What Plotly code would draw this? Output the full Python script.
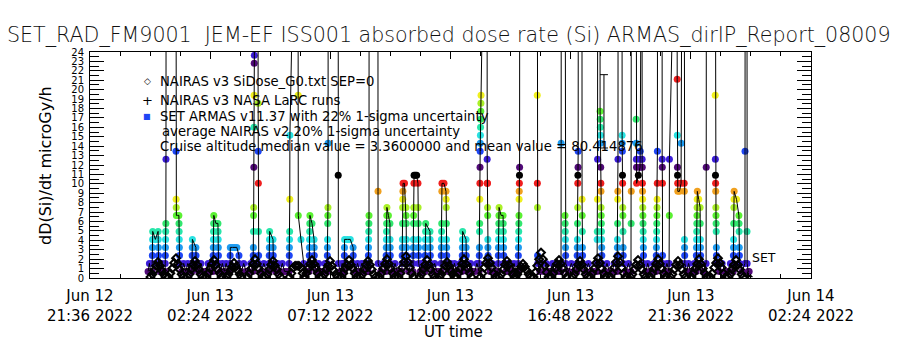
import pandas as pd
import plotly.graph_objects as go

T0 = pd.Timestamp("2022-06-12 00:00")

# ---------------- data ----------------
# SET ARMAS dose-rate samples (microGy/h), grouped in fast bursts; hours after 2022-06-12 00:00 UT
burst_hour = [23.92, 24.08, 24.32, 24.60, 25.03, 25.15, 25.67, 25.83, 26.51, 26.71,
              27.19, 27.55, 28.11, 28.31, 28.75, 28.91, 29.55, 29.91, 30.35, 30.55,
              31.07, 31.51, 31.75, 32.11, 32.71, 33.10, 33.42, 33.58, 34.06, 34.22,
              34.50, 34.70, 34.98, 35.18, 35.62, 35.82, 36.46, 36.62, 37.14, 37.46,
              37.90, 38.10, 38.70, 39.46, 40.41, 40.57, 41.05, 41.25, 41.85, 41.97,
              42.65, 42.85, 43.21, 43.41, 43.57, 43.65, 44.21, 44.45, 44.73, 45.05,
              45.21, 45.33, 45.81, 45.97, 46.21, 46.57, 47.29, 47.52, 47.76, 47.84,
              47.93]
burst_vals = [
    [0.7],
    [0.7, 1.55, 2.4, 3.25, 4.1, 4.95],
    [4.95, 4.1, 3.25, 2.4, 1.55],
    [0.7, 1.55, 2.4, 3.25, 4.1, 4.95, 5.8, 12.6, 40],
    [50, 13.45, 8.35, 7.5, 6.65],
    [6.65, 5.8, 4.95, 4.1, 3.25, 2.4, 1.55],
    [0.7, 1.55, 2.4, 3.25, 4.1],
    [3.25, 2.4, 1.55],
    [0.7, 1.55, 2.4, 3.25, 4.1, 4.95, 5.8, 6.65],
    [5.8, 4.95, 4.1, 3.25, 2.4, 1.55],
    [0.7, 1.55, 2.4, 3.25],
    [2.4, 1.55],
    [0.7, 1.55, 2.4, 3.25, 4.95, 6.65, 7.5, 11.75, 16.0, 19.4, 22.8, 23.65, 60],
    [70, 18.55, 13.45, 10.05, 4.95, 2.4, 1.55],
    [0.7, 1.55, 2.4, 3.25, 4.1, 4.95],
    [4.1, 3.25, 2.4, 1.55],
    [0.7, 1.55, 2.4, 3.25, 4.1, 4.95, 8.35, 15.15, 50],
    [60, 19.4, 6.65],
    [0.7, 1.55, 2.4, 3.25, 4.1, 4.95, 5.8, 6.65],
    [4.1, 3.25, 2.4, 1.55],
    [0.7, 1.55, 2.4, 3.25, 4.1, 5.8, 6.65, 7.5, 14.3, 45],
    [55, 10.9, 1.55],
    [0.7, 1.55, 2.4, 3.25, 4.1],
    [3.25, 2.4, 1.55],
    [0.7, 1.55, 2.4, 3.25, 4.1, 4.95, 5.8, 6.65, 40],
    [50, 9.2, 1.55],
    [0.7, 1.55, 2.4, 3.25, 4.1, 4.95, 5.8, 6.65, 7.5],
    [5.8, 4.1, 3.25, 2.4, 1.55],
    [0.7, 1.55, 2.4, 3.25, 4.1, 5.8, 7.5, 8.35, 9.2, 10.05],
    [7.5, 6.65, 5.8, 4.1, 3.25, 2.4, 1.55],
    [0.7, 1.55, 2.4, 3.25, 4.1, 5.8, 6.65, 7.5, 10.05, 10.9],
    [10.05, 7.5, 5.8, 4.1, 3.25, 2.4, 1.55],
    [0.7, 1.55, 2.4, 3.25, 4.1, 4.95, 5.8],
    [4.95, 4.1, 3.25, 2.4, 1.55],
    [0.7, 1.55, 2.4, 3.25, 4.1, 4.95, 5.8, 9.2, 10.05],
    [9.2, 8.35, 7.5, 5.8, 4.1, 3.25, 2.4, 1.55],
    [0.7, 1.55, 2.4, 3.25, 4.1, 4.95],
    [4.1, 3.25, 2.4, 1.55],
    [0.7, 1.55, 2.4, 3.25, 4.95, 5.8, 8.35, 10.05, 11.75, 13.45, 14.3, 15.15, 16.0, 16.85, 17.7, 18.55, 19.4, 50],
    [60, 12.6, 10.05, 10.05, 7.5, 6.65, 4.1, 3.25, 2.4, 1.55],
    [0.7, 1.55, 2.4, 3.25, 4.1, 4.95, 5.8, 6.65, 7.5],
    [6.65, 5.8, 4.95, 4.1, 3.25, 2.4, 1.55],
    [0.7, 1.55, 2.4, 3.25, 4.1, 4.95, 5.8, 6.65, 8.35, 9.2, 10.05, 10.9, 11.75, 45],
    [55, 19.4, 10.05, 7.5, 2.4, 1.55],
    [0.7, 1.55, 14.3, 40],
    [50, 6.65, 5.8, 4.95, 4.1, 3.25, 2.4, 1.55],
    [0.7, 1.55, 2.4, 3.25, 4.1, 5.8, 7.5, 10.05, 10.9, 11.75, 13.45, 40],
    [50, 8.35, 6.65, 4.95, 3.25, 2.4, 1.55],
    [0.7, 1.55, 4.1, 4.95, 8.35, 12.6, 45],
    [60, 17.7, 16.85, 16.0, 15.15, 14.3, 11.75, 10.05, 9.2, 7.5, 6.65, 5.8, 4.95, 4.1, 3.25, 2.4, 1.55],
    [0.7, 1.55, 2.4, 3.25, 4.1, 5.8, 8.35, 9.2, 12.6, 40],
    [50, 15.15, 14.3, 13.45, 10.9, 10.05, 7.5, 6.65, 4.95, 3.25, 2.4, 1.55],
    [0.7, 5.8, 9.2, 40],
    [50, 16.85, 14.3, 12.6, 11.75, 10.05],
    [11.75, 12.6, 13.45, 40],
    [50, 12.6, 11.75, 10.05, 9.2, 8.35, 7.5, 6.65, 5.8, 4.95, 4.1, 3.25, 2.4, 1.55],
    [0.7, 1.55, 2.4, 3.25, 4.1, 4.95, 5.8, 6.65, 7.5, 8.35, 10.05, 13.45, 45],
    [55, 12.6, 11.75, 10.05, 2.4, 1.55],
    [0.7, 1.55, 6.65, 12.6, 40],
    [50, 21.1, 15.15, 11.75, 10.9, 10.05, 9.2],
    [10.05, 14.3, 40],
    [45, 10.05, 9.2, 4.1, 3.25, 2.4, 1.55],
    [0.7, 1.55, 2.4, 3.25, 4.1, 4.95, 5.8, 6.65, 7.5, 8.35, 9.2],
    [7.5, 5.8, 4.1, 3.25, 2.4, 1.55],
    [1.55, 11.75, 40],
    [50, 19.4, 12.6, 10.9, 10.05, 9.2, 7.5, 6.65, 5.8, 4.95, 3.25, 2.4, 1.55],
    [0.7, 1.55, 2.4, 3.25, 4.1, 5.8, 7.5, 8.35, 9.2],
    [6.65, 5.8, 4.95, 3.25, 2.4, 1.55],
    [1.55, 13.45, 40],
    [50, 4.95, 1.55],
    [0.7],
]
# slower samples between consecutive bursts
gap_vals = [
    [1.55, 0.7], [4.1], [0.7, 1.55, 0.7], [], [6.65], [0.7, 1.55, 0.7, 1.55, 0.7], [],
    [0.7, 1.55, 0.7, 0.7, 1.55, 0.7], [5.8], [0.7, 1.55, 0.7, 1.55, 0.7], [3.25, 3.25, 3.25],
    [0.7, 1.55, 0.7, 0.7, 1.55], [], [0.7, 1.55, 0.7], [], [0.7, 1.55, 0.7, 1.55, 0.7, 0.7], [],
    [4.1, 1.55, 0.7], [5.8], [0.7, 1.55, 0.7, 0.7, 1.55], [], [0.7, 1.55], [4.1, 4.1],
    [0.7, 1.55, 0.7, 1.55, 0.7, 0.7], [], [0.7, 1.55], [6.65], [0.7, 1.55, 0.7, 0.7], [10.05],
    [0.7, 1.55], [10.9, 10.9], [0.7, 1.55, 0.7], [], [0.7, 1.55, 0.7, 0.7], [10.05],
    [0.7, 1.55, 0.7, 1.55, 0.7, 0.7, 1.55], [], [0.7, 1.55, 0.7, 0.7, 1.55], [], [0.7, 1.55, 0.7, 0.7], [6.65],
    [0.7, 1.55, 0.7, 0.7, 1.55, 0.7], [80, 120, 90], [0.7, 1.55, 0.7, 1.55, 0.7, 0.7, 1.55, 0.7, 1.55, 0.7], [],
    [0.7, 1.55, 0.7], [], [0.7, 1.55, 0.7, 0.7], [], [0.7, 1.55, 0.7, 0.7, 1.55], [], [0.7, 1.55], [],
    [10.9], [], [0.7, 1.55, 0.7, 0.7, 1.55], [], [0.7, 1.55], [], [9.2], [60], [0.7, 1.55, 0.7, 0.7, 1.55],
    [8.35], [0.7], [], [0.7, 1.55, 0.7, 0.7, 1.55], [8.35], [0.7], [], [0.7],
]

# NAIRAS v3 SiDose (open diamonds): one arch per half orbit, centre hour + samples
nairas_center_hour = [24.316, 25.035, 25.794, 26.553, 27.352, 28.191, 28.910, 29.869,
                      30.468, 31.187, 31.946, 32.705, 33.464, 34.223, 35.062, 35.860,
                      36.539, 37.498, 38.257, 38.896, 39.615, 40.334, 41.173, 41.892,
                      42.691, 43.490, 44.289, 45.088, 45.927, 46.685, 47.404]
nairas_vals = [
    [0.1, 0.4, 0.8, 1.3, 1.7, 1.3, 0.8, 0.4, 0.1],
    [0.1, 0.5, 1.0, 1.6, 2.1, 1.5, 0.9, 0.4, 0.1],
    [0.1, 0.4, 0.9, 1.4, 1.8, 1.4, 0.9, 0.4, 0.1],
    [0.1, 0.5, 1.0, 1.5, 1.9, 1.4, 0.9, 0.5, 0.1],
    [0.1, 0.4, 0.8, 1.2, 1.6, 1.2, 0.8, 0.4, 0.1],
    [0.1, 0.5, 1.0, 1.5, 2.0, 1.5, 1.0, 0.5, 0.1],
    [0.1, 0.4, 0.9, 1.4, 1.8, 1.3, 0.9, 0.4, 0.1],
    [0.1, 0.5, 1.1, 1.3, 1.3, 1.3, 1.1, 0.5, 0.1],
    [0.1, 0.5, 1.0, 1.5, 1.9, 1.5, 1.0, 0.5, 0.1],
    [0.1, 0.4, 0.9, 1.3, 1.8, 1.3, 0.8, 0.4, 0.1],
    [0.1, 0.5, 1.0, 1.4, 1.9, 1.4, 1.0, 0.5, 0.1],
    [0.1, 0.4, 0.9, 1.4, 1.8, 1.4, 0.9, 0.4, 0.1],
    [0.1, 0.5, 1.0, 1.5, 2.0, 1.5, 1.0, 0.5, 0.1],
    [0.1, 0.5, 1.1, 1.7, 2.3, 1.7, 1.1, 0.5, 0.1],
    [0.1, 0.4, 0.9, 1.4, 1.9, 1.4, 0.9, 0.4, 0.1],
    [0.1, 0.4, 0.8, 1.3, 1.7, 1.3, 0.8, 0.4, 0.1],
    [0.1, 0.5, 1.0, 1.5, 2.0, 1.5, 1.0, 0.5, 0.1],
    [0.1, 0.5, 1.1, 1.6, 2.1, 1.6, 1.1, 0.5, 0.1],
    [0.1, 0.4, 0.9, 1.4, 1.8, 1.4, 0.9, 0.4, 0.1],
    [0.1, 0.4, 0.8, 1.2, 1.5, 1.2, 0.8, 0.4, 0.1],
    [0.1, 0.6, 1.3, 2.0, 2.7, 2.0, 1.3, 0.6, 0.1],
    [0.1, 0.5, 1.0, 1.5, 1.9, 1.5, 1.0, 0.5, 0.1],
    [0.1, 0.4, 0.9, 1.4, 1.8, 1.4, 0.9, 0.4, 0.1],
    [0.1, 0.5, 1.0, 1.6, 2.1, 1.6, 1.0, 0.5, 0.1],
    [0.1, 0.5, 1.1, 1.7, 2.3, 1.7, 1.1, 0.5, 0.1],
    [0.1, 0.4, 0.9, 1.4, 1.9, 1.4, 0.9, 0.4, 0.1],
    [0.1, 0.5, 1.0, 1.5, 2.0, 1.5, 1.0, 0.5, 0.1],
    [0.1, 0.4, 0.9, 1.4, 1.8, 1.4, 0.9, 0.4, 0.1],
    [0.1, 0.5, 1.0, 1.5, 2.0, 1.5, 1.0, 0.5, 0.1],
    [0.1, 0.5, 1.1, 1.6, 2.1, 1.6, 1.1, 0.5, 0.1],
    [0.1, 0.4, 0.9, 1.4, 1.9, 1.4, 0.9, 0.4, 0.1],
]

# NAIRAS v3 NASA LaRC runs (plus markers)
larc_hour = [47.86, 47.90]
larc_val = [0.25, 0.15]

# one ARMAS point shown with its 22% uncertainty bar
err_hour = [42.13]
err_val = [17.7]

# axis ticks
x_tick_hour = [21.6, 26.4, 31.2, 36.0, 40.8, 45.6, 50.4]
x_tick_text = ["Jun 12<br>21:36 2022", "Jun 13<br>02:24 2022", "Jun 13<br>07:12 2022",
               "Jun 13<br>12:00 2022", "Jun 13<br>16:48 2022", "Jun 13<br>21:36 2022",
               "Jun 14<br>02:24 2022"]
y_tick_vals = list(range(0, 25))
y_tick_text = [str(v) for v in y_tick_vals]

# ---------------- build ----------------
BURST_STEP_H = 0.005   # ARMAS fast cadence inside a burst
NAIRAS_STEP_H = 0.075  # NAIRAS sample spacing

def to_time(hours):
    return [T0 + pd.to_timedelta(h, unit="h") for h in hours]

a_h, a_v = [], []
for i, (h, vals) in enumerate(zip(burst_hour, burst_vals)):
    for j, val in enumerate(vals):
        a_h.append(h + j * BURST_STEP_H)
        a_v.append(val)
    if i < len(gap_vals) and i + 1 < len(burst_hour):
        g = gap_vals[i]
        end = h + (len(vals) - 1) * BURST_STEP_H
        nxt = burst_hour[i + 1]
        for k, val in enumerate(g):
            a_h.append(end + (nxt - end) * (k + 1) / (len(g) + 1))
            a_v.append(val)

palette = ["#510a78", "#3c1ed8", "#1e46f5", "#1e9bf0", "#28e1e1", "#28e6aa",
           "#32e66e", "#5af032", "#aaf028", "#f0f01e", "#f0a01e", "#f01e1e", "#000000"]
a_col = [palette[int(round((v - 0.7) / 0.85)) % 13] for v in a_v]

n_h, n_v = [], []
for c, vals in zip(nairas_center_hour, nairas_vals):
    half = (len(vals) - 1) / 2
    for j, val in enumerate(vals):
        n_h.append(c + (j - half) * NAIRAS_STEP_H)
        n_v.append(val)

fig = go.Figure()
fig.add_trace(go.Scatter(x=to_time(a_h), y=a_v, mode="markers",
                         marker=dict(symbol="circle", size=7, color=a_col, line=dict(width=0)),
                         showlegend=False, hoverinfo="skip"))
fig.add_trace(go.Scatter(x=to_time(a_h), y=a_v, mode="lines",
                         line=dict(color="black", width=1), showlegend=False, hoverinfo="skip"))
fig.add_trace(go.Scatter(x=to_time(n_h), y=n_v, mode="markers",
                         marker=dict(symbol="diamond-open", size=6, color="black", line=dict(width=2)),
                         showlegend=False, hoverinfo="skip"))
fig.add_trace(go.Scatter(x=to_time(larc_hour), y=larc_val, mode="markers",
                         marker=dict(symbol="cross-thin-open", size=6, color="black", line=dict(width=1.2, color="black")),
                         showlegend=False, hoverinfo="skip"))
fig.add_trace(go.Scatter(x=to_time(err_hour), y=err_val, mode="markers",
                         marker=dict(size=1, color="rgba(0,0,0,0)"),
                         error_y=dict(type="percent", value=22, color="black", thickness=1, width=4),
                         showlegend=False, hoverinfo="skip"))

FONT = "DejaVu Sans"
fig.update_layout(
    width=900, height=350,
    margin=dict(l=90, r=89, t=52, b=72),
    paper_bgcolor="white", plot_bgcolor="white",
    font=dict(family=FONT, color="black", size=13),
    showlegend=False,
)
fig.update_xaxes(
    range=[T0 + pd.to_timedelta(21.6, unit="h"), T0 + pd.to_timedelta(50.4, unit="h")],
    tickvals=to_time(x_tick_hour), ticktext=x_tick_text,
    ticks="inside", ticklen=7, tickcolor="black", tickwidth=1,
    minor=dict(ticks="inside", ticklen=4, dtick=1.2 * 3600 * 1000, tickcolor="black",
               tick0=T0 + pd.to_timedelta(21.6, unit="h")),
    showline=True, linecolor="black", linewidth=1, mirror="allticks",
    showgrid=False, zeroline=False,
    tickfont=dict(family=FONT, size=15), ticklabelstandoff=4,
)
fig.update_yaxes(
    range=[0, 24], tickvals=y_tick_vals, ticktext=y_tick_text,
    ticks="inside", ticklen=14, tickcolor="black", tickwidth=1,
    minor=dict(ticks="inside", ticklen=9, dtick=0.5, tickcolor="black"),
    showline=True, linecolor="black", linewidth=1, mirror="allticks",
    showgrid=False, zeroline=False,
    tickfont=dict(family=FONT, size=10), ticklabelstandoff=3,
)

def px(x):
    return (x - 90) / 721.0

def py(y):
    return (278 - y) / 226.0

ann = []
ann.append(dict(text="SET_RAD_FM9001  JEM-EF ISS001 absorbed dose rate (Si) ARMAS_dirIP_Report_08009",
                x=px(449), y=py(35), xref="paper", yref="paper", showarrow=False,
                xanchor="center", yanchor="middle",
                font=dict(family=FONT, size=20.6, weight=300, color="#111111")))
ann.append(dict(text="dD(Si)/dt microGy/h", x=px(45), y=py(166), xref="paper", yref="paper",
                showarrow=False, textangle=-90, xanchor="center", yanchor="middle",
                font=dict(family=FONT, size=16)))
ann.append(dict(text="UT time", x=px(453), y=py(332), xref="paper", yref="paper", showarrow=False,
                xanchor="center", yanchor="middle", font=dict(family=FONT, size=15)))
legend_lines = [
    ("NAIRAS v3 SiDose_G0.txt SEP=0", 158, 81),
    ("NAIRAS v3 NASA LaRC runs", 158, 100),
    ("SET ARMAS v11.37 with 22% 1-sigma uncertainty", 158, 116),
    ("average NAIRAS v2 20% 1-sigma uncertainty", 160, 131),
    ("Cruise altitude median value = 3.3600000 and mean value = 80.414876", 158, 146),
]
for txt, x, y in legend_lines:
    ann.append(dict(text=txt, x=px(x), y=py(y), xref="paper", yref="paper", showarrow=False,
                    xanchor="left", yanchor="middle", font=dict(family=FONT, size=13.2)))
for sym, y, col, sz in [("◇", 81, "black", 9), ("+", 100, "black", 13), ("■", 116, "#1e46f5", 8)]:
    ann.append(dict(text=sym, x=px(147), y=py(y), xref="paper", yref="paper", showarrow=False,
                    xanchor="center", yanchor="middle", font=dict(family=FONT, size=sz, color=col)))
ann.append(dict(text="SET", x=px(750), y=py(257), xref="paper", yref="paper", showarrow=False,
                xanchor="left", yanchor="middle", font=dict(family=FONT, size=12.5)))
fig.update_layout(annotations=ann)

fig.write_html("out.html")
